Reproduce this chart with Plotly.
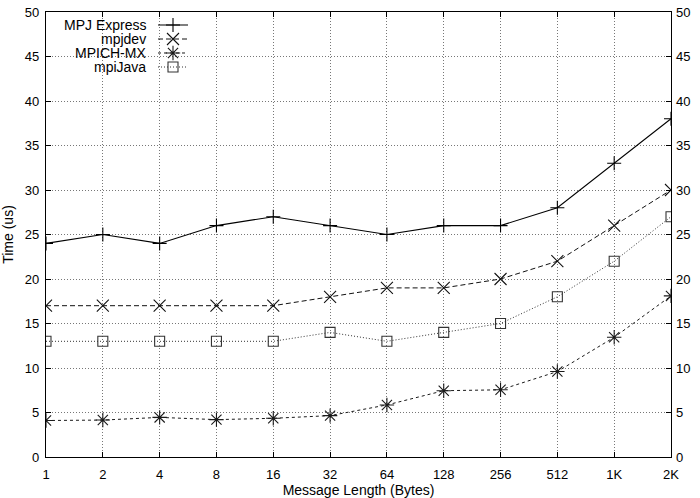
import plotly.graph_objects as go

categories = ["1", "2", "4", "8", "16", "32", "64", "128", "256", "512", "1K", "2K"]
mpj_express = [24, 25, 24, 26, 27, 26, 25, 26, 26, 28, 33, 38]
mpjdev = [17, 17, 17, 17, 17, 18, 19, 19, 20, 22, 26, 30]
mpich_mx = [4.1, 4.15, 4.45, 4.2, 4.35, 4.65, 5.85, 7.45, 7.55, 9.6, 13.45, 18.1]
mpijava = [13, 13, 13, 13, 13, 14, 13, 14, 15, 18, 22, 27]
series_names = ["MPJ Express", "mpjdev", "MPICH-MX", "mpiJava"]
y_ticks = [0, 5, 10, 15, 20, 25, 30, 35, 40, 45, 50]

xpos = list(range(len(categories)))
FONT = "Liberation Sans, Arial, sans-serif"

styles = [
    (mpj_express, "solid", "cross-thin", "#000000", 1.1, 10),
    (mpjdev, "5px,3px", "x-thin", "#111111", 1.0, 12),
    (mpich_mx, "3px,3px", "asterisk-open", "#1a1a1a", 1.0, 12),
    (mpijava, "1px,2px", "square-open", "#333333", 1.0, 10),
]

legend_names = ["legend", "legend2", "legend3", "legend4"]
leg_y = [0.9708, 0.9393, 0.9079, 0.8764]

fig = go.Figure()
for (vals, dash, sym, col, lw, ms), name, lg in zip(styles, series_names, legend_names):
    fig.add_trace(go.Scatter(
        x=xpos, y=vals, mode="lines+markers", name="",
        line=dict(color=col, width=lw, dash=dash),
        marker=dict(symbol=sym, size=ms, color=col,
                    line=dict(color=col, width=1.1)),
        showlegend=True, legend=lg,
    ))

# invisible trace for the right-hand axis
fig.add_trace(go.Scatter(x=[xpos[0]], y=[0], yaxis="y2", mode="markers",
                         marker=dict(opacity=0), showlegend=False,
                         hoverinfo="skip"))

# legend labels (text placed to the left of the symbols)
for name, yy in zip(series_names, leg_y):
    fig.add_annotation(text=name, xref="paper", yref="paper", x=0.1632, y=yy,
                       xanchor="right", yanchor="middle", showarrow=False,
                       font=dict(family=FONT, size=14, color="#000"))

legend_layouts = {}
for lg, yy in zip(legend_names, leg_y):
    legend_layouts[lg] = dict(x=0.1712, y=yy, xanchor="left", yanchor="middle",
                              bgcolor="rgba(0,0,0,0)", borderwidth=0,
                              font=dict(family=FONT, size=1),
                              itemwidth=30, itemsizing="trace")

grid_common = dict(showgrid=True, gridcolor="#777", griddash="1px,2px", gridwidth=1)
axis_common = dict(showline=True, linecolor="#000", linewidth=1.2,
                   ticks="inside", ticklen=5, tickcolor="#000",
                   tickfont=dict(family=FONT, size=13, color="#000"),
                   zeroline=False, automargin=False, **grid_common)

fig.update_layout(
    width=700, height=498,
    margin=dict(l=46, r=29, t=12, b=41, autoexpand=False),
    paper_bgcolor="white", plot_bgcolor="white",
    font=dict(family=FONT, size=13, color="#000"),
    showlegend=True,
    xaxis=dict(range=[0, len(categories) - 1], tickvals=xpos, ticktext=categories,
               mirror="ticks", ticklabelstandoff=5,
               title=dict(text="Message Length (Bytes)", standoff=12,
                          font=dict(family=FONT, size=14)),
               **axis_common),
    yaxis=dict(range=[0, 50], tickvals=y_ticks, mirror="ticks",
               ticklabelstandoff=3,
               title=dict(text="Time (us)", standoff=10,
                          font=dict(family=FONT, size=14)),
               **axis_common),
    yaxis2=dict(range=[0, 50], tickvals=y_ticks, overlaying="y", side="right",
                showline=False, ticks="", showgrid=False, zeroline=False,
                automargin=False, ticklabelstandoff=4,
                tickfont=dict(family=FONT, size=13, color="#000")),
    **legend_layouts,
)

fig.write_html("out.html")
